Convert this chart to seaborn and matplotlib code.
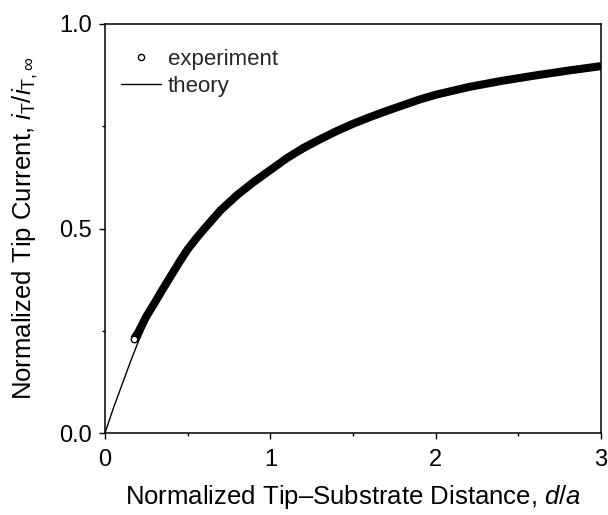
import numpy as np
import pandas as pd
import matplotlib
matplotlib.use("Agg")
import matplotlib.pyplot as plt
import seaborn as sns
from matplotlib.lines import Line2D

# experiment (d/a, iT/iT,inf)
exp_x = [0.175, 0.20, 0.25, 0.30, 0.35, 0.40, 0.45, 0.50, 0.55, 0.60, 0.70, 0.80,
         0.90, 1.00, 1.10, 1.20, 1.30, 1.40, 1.50, 1.60, 1.70, 1.80, 1.90, 2.00,
         2.20, 2.40, 2.60, 2.80, 3.00]
exp_y = [0.230, 0.245, 0.285, 0.318, 0.352, 0.385, 0.418, 0.449, 0.475, 0.499, 0.545, 0.582,
         0.614, 0.643, 0.672, 0.697, 0.718, 0.738, 0.756, 0.772, 0.787, 0.801, 0.815, 0.827,
         0.846, 0.861, 0.874, 0.886, 0.897]
# theory
th_x = [0.0, 0.05, 0.10, 0.15, 0.20, 0.30, 0.40, 0.50, 0.70, 1.00, 1.50, 2.00, 2.50, 3.00]
th_y = [0.0, 0.060, 0.115, 0.170, 0.222, 0.315, 0.385, 0.447, 0.543, 0.642, 0.756, 0.827, 0.868, 0.897]

xticks = [0, 1, 2, 3]
yticks = [0.0, 0.5, 1.0]
ytick_labels = ["0.0", "0.5", "1.0"]

sns.set_theme(style="ticks")
plt.rcParams["font.family"] = ["Liberation Sans", "DejaVu Sans"]
plt.rcParams["mathtext.fontset"] = "custom"
plt.rcParams["mathtext.rm"] = "Liberation Sans"
plt.rcParams["mathtext.it"] = "Liberation Sans:italic"
plt.rcParams["mathtext.bf"] = "Liberation Sans:bold"

fig = plt.figure(figsize=(6.08, 5.15), dpi=100)
ax = fig.add_axes([105 / 608, 82 / 515, 496 / 608, 409 / 515])

df_exp = pd.DataFrame({"x": exp_x, "y": exp_y})
df_th = pd.DataFrame({"x": th_x, "y": th_y})

sns.lineplot(data=df_th, x="x", y="y", ax=ax, color="black", linewidth=1.0,
             estimator=None, sort=False, legend=False)
sns.lineplot(data=df_exp, x="x", y="y", ax=ax, color="black", linewidth=5.8,
             estimator=None, sort=False, legend=False, solid_capstyle="butt",
             solid_joinstyle="round")
sns.scatterplot(x=exp_x[:1], y=exp_y[:1], ax=ax, marker="o", s=22,
                facecolor="white", edgecolor="black", linewidth=1.0, zorder=5,
                legend=False)

ax.set_xlim(0, 3)
ax.set_ylim(0, 1.0)
ax.set_xticks(xticks)
ax.set_xticklabels([str(t) for t in xticks])
ax.set_xticks([0.5, 1.5, 2.5], minor=True)
ax.set_yticks(yticks)
ax.set_yticklabels(ytick_labels)
ax.set_yticks([0.25, 0.75], minor=True)

for s in ax.spines.values():
    s.set_visible(True)
    s.set_linewidth(1.1)
    s.set_color("black")

ax.tick_params(axis="both", which="major", direction="out", length=4.5, width=1.0,
               labelsize=17, colors="black")
ax.tick_params(axis="x", which="major", pad=7)
ax.tick_params(axis="y", which="major", pad=5)
ax.tick_params(axis="both", which="minor", direction="out", length=2.5, width=1.0,
               colors="black")
ax.tick_params(top=False, right=False, which="both")

ax.set_xlabel("Normalized Tip\u2013Substrate Distance, $\\it{d/a}$", fontsize=18.5,
              color="black", labelpad=9)
ax.set_ylabel(r"Normalized Tip Current, $\it{i}_{\rm T}/\it{i}_{\rm T,\infty}$",
              fontsize=18.5, color="black", labelpad=14)

handles = [
    Line2D([], [], marker="o", linestyle="none", markersize=4.5,
           markerfacecolor="white", markeredgecolor="black", markeredgewidth=1.0),
    Line2D([], [], color="black", linewidth=1.0),
]
ax.legend(handles, ["experiment", "theory"], loc="upper left",
          bbox_to_anchor=(0.032, 0.94), frameon=False, fontsize=16,
          handlelength=1.8, handletextpad=0.3, labelspacing=0.3,
          borderpad=0, borderaxespad=0)

fig.savefig("out.png", dpi=100)
